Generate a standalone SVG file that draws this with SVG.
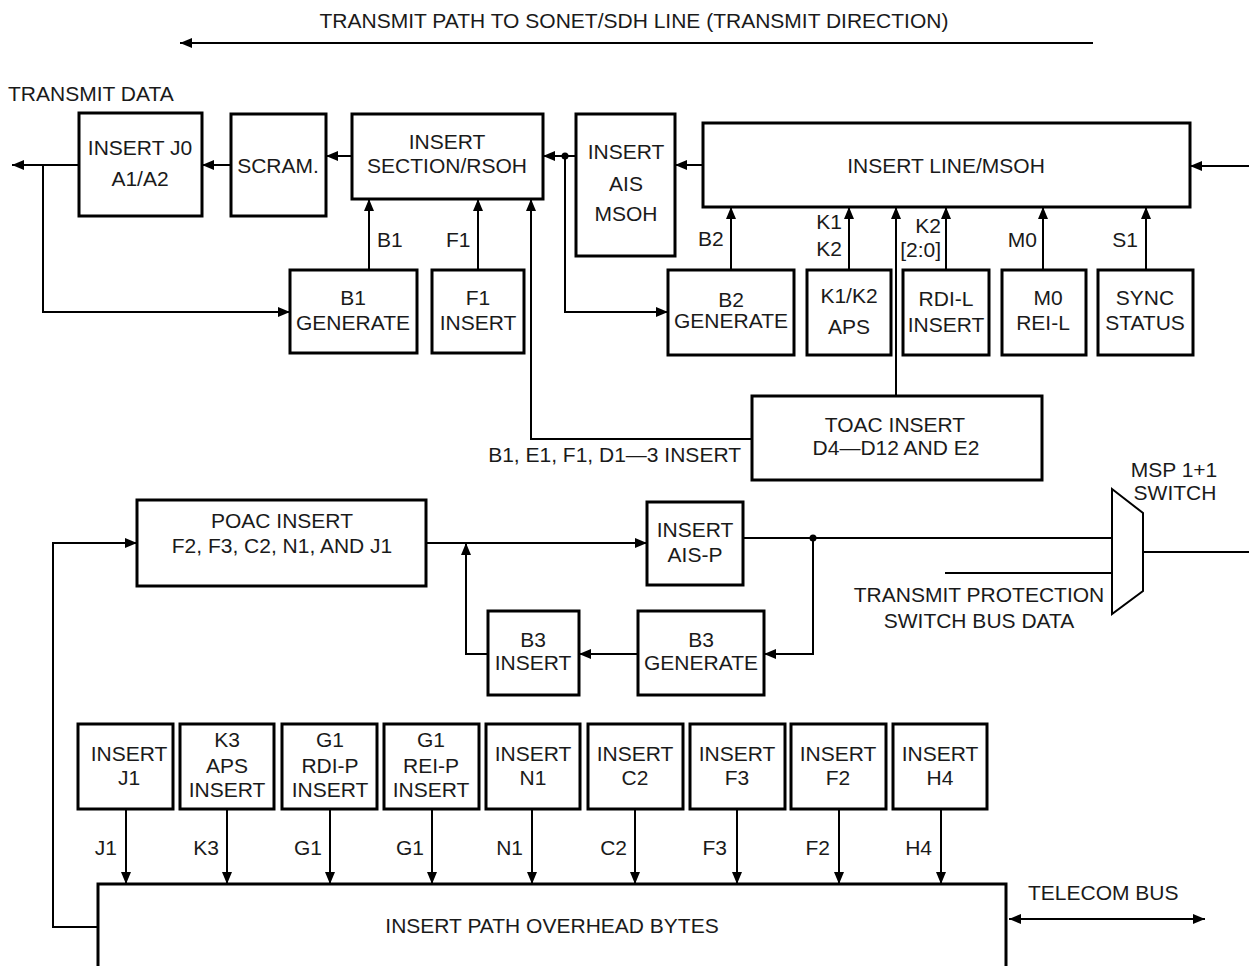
<svg xmlns="http://www.w3.org/2000/svg" width="1249" height="966" viewBox="0 0 1249 966">
<defs>
<marker id="ah" viewBox="0 0 12 10" refX="12" refY="5" markerWidth="12" markerHeight="10" markerUnits="userSpaceOnUse" orient="auto-start-reverse"><path d="M0,0 L12,5 L0,10 z" fill="#000"/></marker>
<style>
text{font-family:"Liberation Sans",Arial,sans-serif;font-size:21px;fill:#1a1a1a}
.c{text-anchor:middle}
.e{text-anchor:end}
.box{fill:#fff;stroke:#000;stroke-width:3}
.ln{fill:none;stroke:#000;stroke-width:2}
.ar{fill:none;stroke:#000;stroke-width:2;marker-end:url(#ah)}
.ar2{fill:none;stroke:#000;stroke-width:2;marker-start:url(#ah);marker-end:url(#ah)}
</style>
</defs>
<rect width="1249" height="966" fill="#fff"/>

<g id="connectors">
<line class="ar" x1="1093" y1="43" x2="180" y2="43"/>
<line class="ar" x1="79" y1="165" x2="12" y2="165"/>
<polyline class="ar" points="43,165 43,312 290,312"/>
<line class="ar" x1="231" y1="165" x2="202" y2="165"/>
<line class="ar" x1="352" y1="156" x2="326" y2="156"/>
<line class="ar" x1="576" y1="156" x2="543" y2="156"/>
<circle cx="565" cy="156" r="3.5" fill="#000"/>
<polyline class="ar" points="565,156 565,312 668,312"/>
<line class="ar" x1="703" y1="165" x2="675" y2="165"/>
<line class="ar" x1="1249" y1="166" x2="1190" y2="166"/>
<line class="ar" x1="369" y1="270" x2="369" y2="199"/>
<line class="ar" x1="478" y1="270" x2="478" y2="199"/>
<polyline class="ar" points="752,439 531,439 531,199"/>
<line class="ar" x1="731" y1="270" x2="731" y2="207"/>
<line class="ar" x1="849" y1="270" x2="849" y2="207"/>
<line class="ar" x1="896" y1="396" x2="896" y2="207"/>
<line class="ar" x1="946" y1="270" x2="946" y2="207"/>
<line class="ar" x1="1043" y1="270" x2="1043" y2="207"/>
<line class="ar" x1="1146" y1="270" x2="1146" y2="207"/>
<polyline class="ar" points="98,927 53,927 53,543 137,543"/>
<line class="ar" x1="426" y1="543" x2="647" y2="543"/>
<polyline class="ar" points="488,654 466,654 466,543"/>
<line class="ln" x1="743" y1="538" x2="1112" y2="538"/>
<circle cx="813" cy="538" r="3.5" fill="#000"/>
<polyline class="ar" points="813,538 813,654 764,654"/>
<line class="ar" x1="638" y1="654" x2="579" y2="654"/>
<line class="ln" x1="945" y1="573" x2="1112" y2="573"/>
<line class="ln" x1="1143" y1="552" x2="1249" y2="552"/>
<line class="ar" x1="126" y1="809" x2="126" y2="884"/>
<line class="ar" x1="227" y1="809" x2="227" y2="884"/>
<line class="ar" x1="330" y1="809" x2="330" y2="884"/>
<line class="ar" x1="432" y1="809" x2="432" y2="884"/>
<line class="ar" x1="532" y1="809" x2="532" y2="884"/>
<line class="ar" x1="635" y1="809" x2="635" y2="884"/>
<line class="ar" x1="737" y1="809" x2="737" y2="884"/>
<line class="ar" x1="839" y1="809" x2="839" y2="884"/>
<line class="ar" x1="941" y1="809" x2="941" y2="884"/>
<line class="ar2" x1="1009" y1="919" x2="1205" y2="919"/>
</g>

<g id="labels">
<text x="634" y="28" class="c">TRANSMIT PATH TO SONET/SDH LINE (TRANSMIT DIRECTION)</text>
<text x="8" y="101">TRANSMIT DATA</text>
<text x="377" y="247">B1</text>
<text x="446" y="247">F1</text>
<text x="698" y="246">B2</text>
<text x="842" y="229" class="e">K1</text>
<text x="842" y="256" class="e">K2</text>
<text x="941" y="233" class="e">K2</text>
<text x="941" y="257" class="e">[2:0]</text>
<text x="1037" y="247" class="e">M0</text>
<text x="1138" y="247" class="e">S1</text>
<text x="741" y="462" class="e">B1, E1, F1, D1—3 INSERT</text>
<text x="1174" y="477" class="c">MSP 1+1</text>
<text x="1175" y="500" class="c">SWITCH</text>
<text x="979" y="602" class="c">TRANSMIT PROTECTION</text>
<text x="979" y="628" class="c">SWITCH BUS DATA</text>
<text x="117" y="855" class="e">J1</text>
<text x="219" y="855" class="e">K3</text>
<text x="322" y="855" class="e">G1</text>
<text x="424" y="855" class="e">G1</text>
<text x="523" y="855" class="e">N1</text>
<text x="627" y="855" class="e">C2</text>
<text x="727" y="855" class="e">F3</text>
<text x="830" y="855" class="e">F2</text>
<text x="932" y="855" class="e">H4</text>
<text x="1028" y="900">TELECOM BUS</text>
</g>

<g id="insert-j0"><rect class="box" x="79" y="113" width="123" height="103"/><text x="140" y="155" class="c">INSERT J0</text><text x="140" y="186" class="c">A1/A2</text></g>
<g id="scram"><rect class="box" x="231" y="114" width="95" height="102"/><text x="278" y="173" class="c">SCRAM.</text></g>
<g id="insert-rsoh"><rect class="box" x="352" y="114" width="191" height="85"/><text x="447" y="149" class="c">INSERT</text><text x="447" y="173" class="c">SECTION/RSOH</text></g>
<g id="insert-ais-msoh"><rect class="box" x="576" y="114" width="99" height="142"/><text x="626" y="159" class="c">INSERT</text><text x="626" y="191" class="c">AIS</text><text x="626" y="221" class="c">MSOH</text></g>
<g id="insert-line-msoh"><rect class="box" x="703" y="123" width="487" height="84"/><text x="946" y="173" class="c">INSERT LINE/MSOH</text></g>
<g id="b1-generate"><rect class="box" x="290" y="270" width="127" height="83"/><text x="353" y="305" class="c">B1</text><text x="353" y="330" class="c">GENERATE</text></g>
<g id="f1-insert"><rect class="box" x="432" y="270" width="92" height="83"/><text x="478" y="305" class="c">F1</text><text x="478" y="330" class="c">INSERT</text></g>
<g id="b2-generate"><rect class="box" x="668" y="270" width="126" height="85"/><text x="731" y="307" class="c">B2</text><text x="731" y="328" class="c">GENERATE</text></g>
<g id="k1k2-aps"><rect class="box" x="807" y="270" width="84" height="85"/><text x="849" y="303" class="c">K1/K2</text><text x="849" y="334" class="c">APS</text></g>
<g id="rdi-l-insert"><rect class="box" x="903" y="270" width="86" height="85"/><text x="946" y="306" class="c">RDI-L</text><text x="946" y="332" class="c">INSERT</text></g>
<g id="m0-rei-l"><rect class="box" x="1002" y="270" width="84" height="85"/><text x="1048" y="305" class="c">M0</text><text x="1043" y="330" class="c">REI-L</text></g>
<g id="sync-status"><rect class="box" x="1098" y="270" width="95" height="85"/><text x="1145" y="305" class="c">SYNC</text><text x="1145" y="330" class="c">STATUS</text></g>
<g id="toac-insert"><rect class="box" x="752" y="396" width="290" height="84"/><text x="895" y="432" class="c">TOAC INSERT</text><text x="896" y="455" class="c">D4—D12 AND E2</text></g>
<g id="poac-insert"><rect class="box" x="137" y="500" width="289" height="86"/><text x="282" y="528" class="c">POAC INSERT</text><text x="282" y="553" class="c">F2, F3, C2, N1, AND J1</text></g>
<g id="insert-ais-p"><rect class="box" x="647" y="502" width="96" height="83"/><text x="695" y="537" class="c">INSERT</text><text x="695" y="562" class="c">AIS-P</text></g>
<g id="b3-generate"><rect class="box" x="638" y="611" width="126" height="84"/><text x="701" y="647" class="c">B3</text><text x="701" y="670" class="c">GENERATE</text></g>
<g id="b3-insert"><rect class="box" x="488" y="611" width="91" height="84"/><text x="533" y="647" class="c">B3</text><text x="533" y="670" class="c">INSERT</text></g>
<g id="msp-switch"><polygon points="1112,489 1143,513 1143,591 1112,614" fill="#fff" stroke="#000" stroke-width="2"/></g>
<g id="insert-j1"><rect class="box" x="78" y="724" width="95" height="85"/><text x="129" y="761" class="c">INSERT</text><text x="129" y="785" class="c">J1</text></g>
<g id="k3-aps-insert"><rect class="box" x="180" y="724" width="94" height="85"/><text x="227" y="747" class="c">K3</text><text x="227" y="773" class="c">APS</text><text x="227" y="797" class="c">INSERT</text></g>
<g id="g1-rdi-p-insert"><rect class="box" x="282" y="724" width="95" height="85"/><text x="330" y="747" class="c">G1</text><text x="330" y="773" class="c">RDI-P</text><text x="330" y="797" class="c">INSERT</text></g>
<g id="g1-rei-p-insert"><rect class="box" x="384" y="724" width="95" height="85"/><text x="431" y="747" class="c">G1</text><text x="431" y="773" class="c">REI-P</text><text x="431" y="797" class="c">INSERT</text></g>
<g id="insert-n1"><rect class="box" x="486" y="724" width="94" height="85"/><text x="533" y="761" class="c">INSERT</text><text x="533" y="785" class="c">N1</text></g>
<g id="insert-c2"><rect class="box" x="588" y="724" width="95" height="85"/><text x="635" y="761" class="c">INSERT</text><text x="635" y="785" class="c">C2</text></g>
<g id="insert-f3"><rect class="box" x="690" y="724" width="95" height="85"/><text x="737" y="761" class="c">INSERT</text><text x="737" y="785" class="c">F3</text></g>
<g id="insert-f2"><rect class="box" x="791" y="724" width="95" height="85"/><text x="838" y="761" class="c">INSERT</text><text x="838" y="785" class="c">F2</text></g>
<g id="insert-h4"><rect class="box" x="893" y="724" width="94" height="85"/><text x="940" y="761" class="c">INSERT</text><text x="940" y="785" class="c">H4</text></g>
<g id="insert-path-overhead"><path d="M98,970 L98,884 L1006,884 L1006,970" fill="#fff" stroke="#000" stroke-width="3"/><text x="552" y="933" class="c">INSERT PATH OVERHEAD BYTES</text></g>
</svg>
